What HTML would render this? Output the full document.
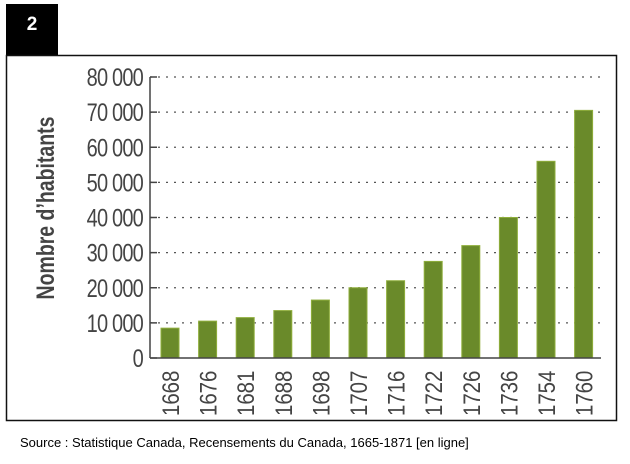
<!DOCTYPE html>
<html><head><meta charset="utf-8"><style>
body{margin:0;background:#fff;width:630px;height:459px;overflow:hidden;font-family:"Liberation Sans",sans-serif}
</style></head><body>
<svg width="630" height="459" xmlns="http://www.w3.org/2000/svg">
<rect x="6" y="4" width="52" height="52" fill="#000"/>
<text x="32" y="30" fill="#fff" font-size="19" font-weight="bold" text-anchor="middle" font-family="Liberation Sans, sans-serif">2</text>
<rect x="6.5" y="55.5" width="610" height="365" fill="none" stroke="#111" stroke-width="1.5"/>
<g id="grid"></g><g id="bars"></g><g id="ylabels"></g><g id="xlabels"></g>
<line x1="150" y1="77" x2="150" y2="358" stroke="#444" stroke-width="1.5"/>
<line x1="150" y1="358" x2="601" y2="358" stroke="#444" stroke-width="1.5"/>
<text transform="translate(54,208) rotate(-90) scale(0.78,1)" text-anchor="middle" font-size="25" font-weight="bold" fill="#444" font-family="Liberation Sans, sans-serif">Nombre d’habitants</text>
<text x="20" y="447" font-size="13" fill="#000" font-family="Liberation Sans, sans-serif">Source :  Statistique Canada, Recensements du Canada, 1665-1871 [en ligne]</text>
</svg>
<script>
const years=["1668","1676","1681","1688","1698","1707","1716","1722","1726","1736","1754","1760"];
const population=[8500,10500,11500,13500,16500,20000,22000,27500,32000,40000,56000,70500];
const yTicks=[0,10000,20000,30000,40000,50000,60000,70000,80000];
const yTickLabels=["0","10 000","20 000","30 000","40 000","50 000","60 000","70 000","80 000"];
const NS="http://www.w3.org/2000/svg";
const y=v=>358-v*(281/80000);
const x=i=>170+i*37.6;
function mk(t,a,p){const e=document.createElementNS(NS,t);for(const k in a)e.setAttribute(k,a[k]);document.getElementById(p).appendChild(e);return e;}
yTicks.forEach((v,i)=>{
  if(v>0){const g=mk('line',{x1:150,x2:601,y1:y(v),y2:y(v),stroke:'#555','stroke-width':1.3,'stroke-dasharray':'2 6'},'grid');
  
  }
  const tk=mk('line',{x1:150,x2:157,y1:y(v),y2:y(v),stroke:'#444','stroke-width':1.5},'grid');
  
  
  const t=mk('text',{transform:`translate(143,${y(v)+9}) scale(0.8,1)`,'text-anchor':'end','font-size':25,fill:'#444','font-family':'Liberation Sans, sans-serif','letter-spacing':'-1'},'ylabels');
  t.textContent=yTickLabels[i];
  
  
});
population.forEach((v,i)=>{
  const b=mk('rect',{x:x(i)-9,y:y(v),width:18,height:358-y(v),fill:'#6a8a2a',stroke:'#8fae3c','stroke-width':1},'bars');
  
  
  const t=mk('text',{transform:`translate(${x(i)+9},416) rotate(-90) scale(0.85,1)`,'font-size':24,fill:'#444','font-family':'Liberation Sans, sans-serif'},'xlabels');
  t.textContent=years[i];
  
  
});
</script>
</body></html>
